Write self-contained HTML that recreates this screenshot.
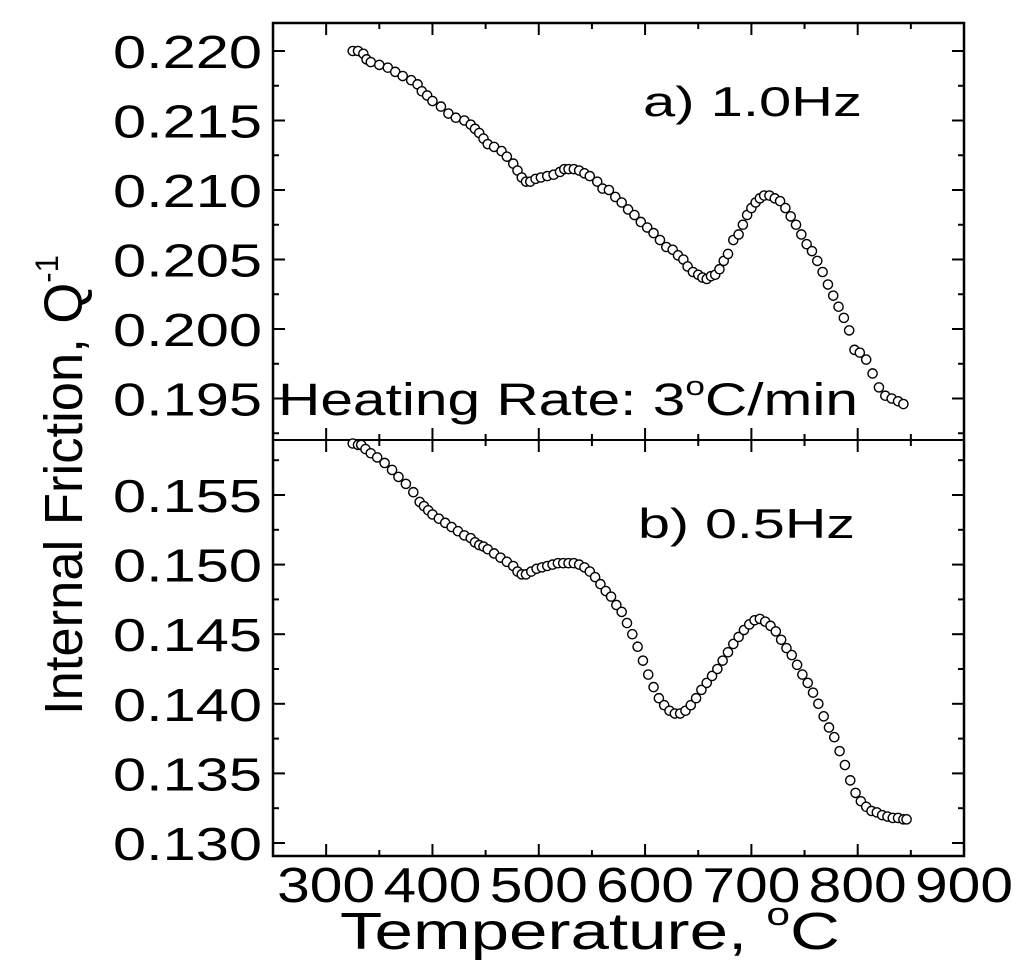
<!DOCTYPE html>
<html><head><meta charset="utf-8"><style>
html,body{margin:0;padding:0;background:#fff}
svg{display:block;font-family:"Liberation Sans",Arial,sans-serif}
</style></head><body>
<svg id="chart" width="1024" height="970" viewBox="0 0 1024 970" xmlns="http://www.w3.org/2000/svg">
<g id="axes"></g>
<g id="marks"></g>
<text x="643" y="116" font-size="42" textLength="219" lengthAdjust="spacingAndGlyphs">a) 1.0Hz</text>
<text x="638" y="538" font-size="42" textLength="217" lengthAdjust="spacingAndGlyphs">b) 0.5Hz</text>
<text x="278" y="415" font-size="45" textLength="580" lengthAdjust="spacingAndGlyphs">Heating Rate: 3<tspan font-size="27" dy="-20">o</tspan><tspan dy="20">C/min</tspan></text>
<text transform="translate(82,715) rotate(-90)" font-size="54" textLength="460" lengthAdjust="spacingAndGlyphs">Internal Friction, Q<tspan font-size="32" dy="-24">-1</tspan></text>
<text x="340" y="949" font-size="52" textLength="500" lengthAdjust="spacingAndGlyphs">Temperature, <tspan font-size="32" dy="-24">o</tspan><tspan dy="24">C</tspan></text>
</svg>
<script>
const xTicks = [300,400,500,600,700,800,900];
const topYTicks = [0.220,0.215,0.210,0.205,0.200,0.195];
const topYTickLabels = ["0.220","0.215","0.210","0.205","0.200","0.195"];
const botYTicks = [0.155,0.150,0.145,0.140,0.135,0.130];
const botYTickLabels = ["0.155","0.150","0.145","0.140","0.135","0.130"];
const tempA = [325,330,335,338,342,350,358,365,372,380,386,390,395,400,408,415,422,430,436,440,444,448,452,458,465,470,476,480,484,488,492,497,502,508,514,520,524,528,533,538,543,548,555,560,566,572,578,584,590,596,602,608,614,620,626,631,636,640,645,650,654,658,662,666,670,674,678,683,688,692,696,700,704,708,712,717,722,727,732,737,742,747,752,757,762,767,772,777,782,787,792,797,802,808,814,820,826,832,838,843];
const qA = [0.2200,0.2200,0.2198,0.2194,0.2192,0.2190,0.2188,0.2185,0.2182,0.2179,0.2176,0.2171,0.2168,0.2164,0.2160,0.2155,0.2152,0.2150,0.2147,0.2144,0.2141,0.2137,0.2133,0.2131,0.2128,0.2124,0.2119,0.2114,0.2109,0.2106,0.2106,0.2108,0.2109,0.2110,0.2111,0.2113,0.2115,0.2115,0.2115,0.2114,0.2112,0.2110,0.2106,0.2101,0.2100,0.2095,0.2091,0.2086,0.2082,0.2077,0.2073,0.2069,0.2064,0.2059,0.2057,0.2053,0.2050,0.2045,0.2041,0.2039,0.2037,0.2036,0.2038,0.2039,0.2043,0.2049,0.2054,0.2064,0.2068,0.2075,0.2082,0.2087,0.2091,0.2094,0.2096,0.2096,0.2094,0.2092,0.2087,0.2081,0.2075,0.2068,0.2061,0.2056,0.2049,0.2041,0.2032,0.2024,0.2016,0.2008,0.1999,0.1985,0.1983,0.1978,0.1968,0.1958,0.1952,0.1950,0.1948,0.1946,0.1945,0.1944,0.1944,0.1943];
const tempB = [325,330,333,337,342,348,355,362,368,375,382,388,392,396,400,406,412,418,424,430,436,440,444,448,452,458,464,470,476,480,484,488,493,498,503,508,513,518,523,528,533,538,543,548,553,558,563,568,573,578,583,588,593,598,603,608,613,618,623,628,633,638,643,648,653,658,663,668,673,678,683,688,693,698,703,708,713,718,723,728,733,738,743,748,753,758,763,768,773,778,783,788,793,798,803,808,813,818,823,828,833,838,843,846];
const qB = [0.1587,0.1586,0.1586,0.1583,0.1580,0.1577,0.1573,0.1568,0.1563,0.1558,0.1552,0.1545,0.1542,0.1539,0.1536,0.1533,0.1530,0.1527,0.1524,0.1521,0.1519,0.1516,0.1514,0.1513,0.1511,0.1508,0.1505,0.1502,0.1499,0.1495,0.1493,0.1493,0.1495,0.1497,0.1498,0.1499,0.1500,0.1501,0.1501,0.1501,0.1501,0.1500,0.1498,0.1495,0.1491,0.1486,0.1481,0.1477,0.1471,0.1466,0.1458,0.1450,0.1441,0.1431,0.1421,0.1412,0.1404,0.1399,0.1395,0.1393,0.1393,0.1395,0.1399,0.1404,0.1410,0.1415,0.1420,0.1425,0.1431,0.1437,0.1443,0.1448,0.1453,0.1457,0.1460,0.1461,0.1459,0.1456,0.1452,0.1446,0.1440,0.1435,0.1428,0.1421,0.1415,0.1408,0.1400,0.1391,0.1383,0.1376,0.1366,0.1356,0.1345,0.1336,0.1330,0.1326,0.1323,0.1322,0.1320,0.1319,0.1318,0.1318,0.1317,0.1317];

const NS = "http://www.w3.org/2000/svg";
const L = 273, R = 964, T = 23, M = 440, B = 856;
const xS = t => L + (t - 250) / (900 - 250) * (R - L);
const yA = v => 51 + (0.220 - v) / 0.005 * 69.5;
const yB = v => 495 + (0.155 - v) / 0.005 * 69.6;
const axes = document.getElementById('axes');
const marks = document.getElementById('marks');
function mk(tag, attrs, parent) {
  const e = document.createElementNS(NS, tag);
  for (const k in attrs) e.setAttribute(k, attrs[k]);
  parent.appendChild(e); return e;
}
const frame = mk('rect', {x:L, y:T, width:R-L, height:B-T, fill:'none', stroke:'#000', 'stroke-width':2.5}, axes);


const divider = mk('line', {x1:L, x2:R, y1:M, y2:M, stroke:'#000', 'stroke-width':2}, axes);



for (let t = 250; t <= 900; t += 50) {
  const major = t % 100 === 0;
  const len = major ? 12 : 6;
  const x = xS(t);
  if (t === 250 || t === 900) continue;
  [[B, -1], [T, 1], [M, -1], [M, 1]].forEach(([y, d]) => {
    const tk = mk('line', {x1:x, x2:x, y1:y, y2:y + d*len, stroke:'#000', 'stroke-width':2}, axes);
    
    
  });
}
xTicks.forEach(t => {
  const tx = mk('text', {x:xS(t), y:902, 'font-size':49, 'text-anchor':'middle', textLength:98, lengthAdjust:'spacingAndGlyphs'}, axes);
  tx.textContent = String(t);
  
  
});
function yTicks(ticks, labels, ys, lo, hi) {
  ticks.forEach((v, i) => {
    const y = ys(v);
    [[L, 1], [R, -1]].forEach(([x, d]) => {
      const tk = mk('line', {x1:x, x2:x + d*12, y1:y, y2:y, stroke:'#000', 'stroke-width':2}, axes);
      
      
    });
    const ym = ys(v - 0.0025);
    if (ym > lo && ym < hi) {
      [[L, 1], [R, -1]].forEach(([x, d]) => {
        const tk = mk('line', {x1:x, x2:x + d*6, y1:ym, y2:ym, stroke:'#000', 'stroke-width':2}, axes);
        
        
      });
    }
    const ymu = ys(v + 0.0025);
    if (i === 0 && ymu > lo && ymu < hi) {
      [[L, 1], [R, -1]].forEach(([x, d]) => {
        const tk = mk('line', {x1:x, x2:x + d*6, y1:ymu, y2:ymu, stroke:'#000', 'stroke-width':2}, axes);
        
        
      });
    }
    const tx = mk('text', {x:262, y:y + 17, 'font-size':46, 'text-anchor':'end', textLength:149, lengthAdjust:'spacingAndGlyphs'}, axes);
    tx.textContent = labels[i];
    
    
  });
}
yTicks(topYTicks, topYTickLabels, yA, T, M);
yTicks(botYTicks, botYTickLabels, yB, M, B);

tempA.forEach((t, i) => {
  const c = mk('circle', {cx:xS(t), cy:yA(qA[i]), r:4.6, fill:'#fff', stroke:'#000', 'stroke-width':1.4}, marks);
  
  
});
tempB.forEach((t, i) => {
  const c = mk('circle', {cx:xS(t), cy:yB(qB[i]), r:4.6, fill:'#fff', stroke:'#000', 'stroke-width':1.4}, marks);
  
  
});
</script>
</body></html>
